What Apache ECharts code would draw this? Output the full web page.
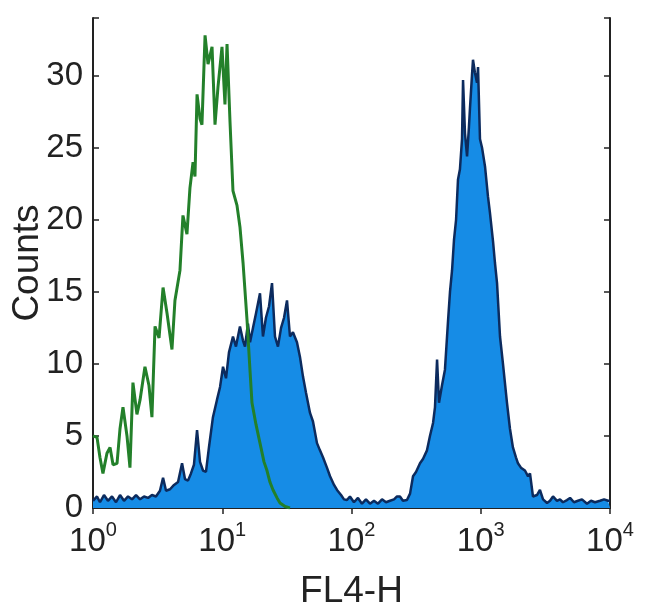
<!DOCTYPE html>
<html><head><meta charset="utf-8">
<script src="https://cdn.jsdelivr.net/npm/echarts@6/dist/echarts.min.js"></script>
<style>html,body{margin:0;padding:0;background:#fff}#c{width:650px;height:615px}</style>
</head><body><div id="c"></div>
<script>
// Tick labels
const xTickExponents = [0, 1, 2, 3, 4];
const yTickLabels = [0, 5, 10, 15, 20, 25, 30];
const xAxisTitle = 'FL4-H';
const yAxisTitle = 'Counts';

// Stained sample (blue filled histogram): log10(FL4-H) and counts
const blueLogFL4 = [0.000,0.031,0.054,0.085,0.116,0.147,0.178,0.209,0.240,0.271,0.302,0.333,0.364,0.395,0.426,0.456,0.487,0.518,0.542,0.565,0.596,0.627,0.658,0.689,0.712,0.735,0.758,0.781,0.805,0.828,0.851,0.874,0.897,0.928,0.959,0.983,1.006,1.029,1.052,1.083,1.106,1.137,1.161,1.176,1.199,1.215,1.238,1.261,1.292,1.315,1.338,1.362,1.385,1.408,1.431,1.455,1.478,1.501,1.524,1.547,1.578,1.601,1.625,1.648,1.679,1.702,1.733,1.756,1.780,1.810,1.834,1.865,1.888,1.919,1.942,1.965,1.988,2.019,2.050,2.081,2.112,2.143,2.174,2.205,2.236,2.267,2.298,2.329,2.352,2.375,2.398,2.429,2.453,2.476,2.499,2.530,2.553,2.584,2.607,2.631,2.646,2.662,2.677,2.700,2.723,2.747,2.762,2.778,2.793,2.809,2.824,2.839,2.855,2.863,2.878,2.894,2.909,2.917,2.932,2.940,2.955,2.971,2.979,2.994,3.010,3.033,3.056,3.071,3.095,3.110,3.126,3.149,3.172,3.203,3.226,3.249,3.273,3.288,3.311,3.342,3.366,3.381,3.404,3.435,3.458,3.482,3.513,3.536,3.559,3.590,3.613,3.636,3.667,3.691,3.721,3.752,3.783,3.822,3.853,3.884,3.923,3.954,3.985,4.000];
const blueCounts = [0.5,0.8,0.4,0.9,0.5,0.8,0.4,0.9,0.5,0.8,0.6,0.9,0.6,0.8,0.7,0.9,0.8,1.2,2.1,1.2,1.3,1.6,1.8,3.1,2.0,1.9,2.4,3.0,5.4,3.2,2.6,2.5,4.2,6.3,7.5,8.4,9.8,9.0,10.8,11.9,11.2,12.6,11.6,11.2,12.8,11.5,12.5,13.5,14.9,11.9,13.2,14.0,15.6,11.9,11.2,12.5,13.2,14.4,11.9,12.2,11.5,10.5,9.1,8.0,6.6,6.0,4.5,4.0,3.5,2.8,2.2,1.6,1.25,0.9,0.6,0.55,0.8,0.4,0.7,0.3,0.6,0.3,0.5,0.3,0.6,0.4,0.5,0.6,0.8,0.8,0.5,0.55,1.0,2.2,2.5,3.1,3.4,4.0,5.0,5.9,7.0,10.3,7.3,8.5,9.6,13.0,15.0,16.5,18.6,20.0,22.8,23.5,25.6,29.7,26.0,24.4,26.5,27.8,30.0,31.1,30.2,29.5,30.6,25.6,25.0,23.7,21.6,20.5,18.5,17.0,15.6,11.9,10.0,7.3,5.5,4.2,3.5,3.1,2.8,2.6,2.2,2.4,0.8,0.9,1.25,0.6,0.35,0.5,0.8,0.5,0.6,0.4,0.55,0.7,0.4,0.5,0.6,0.3,0.5,0.4,0.5,0.6,0.5,0.5];

// Control (green outline): log10(FL4-H) and counts
const greenLogFL4 = [0.000,0.031,0.054,0.077,0.108,0.132,0.155,0.186,0.209,0.232,0.263,0.286,0.309,0.340,0.364,0.402,0.433,0.456,0.480,0.511,0.542,0.573,0.611,0.634,0.673,0.696,0.727,0.750,0.774,0.789,0.805,0.828,0.843,0.867,0.890,0.921,0.944,0.967,0.998,1.021,1.037,1.060,1.083,1.114,1.137,1.161,1.192,1.215,1.230,1.261,1.292,1.323,1.346,1.369,1.393,1.424,1.447,1.486,1.524];
const greenCounts = [5.0,4.9,3.5,2.4,3.8,4.2,3.0,3.1,5.5,7.0,5.0,2.8,8.7,6.5,7.5,9.8,8.5,6.3,12.6,11.8,15.3,13.5,11.0,14.4,16.5,20.3,19.0,22.2,24.0,23.0,28.7,27.0,26.6,32.8,30.8,32.0,26.6,29.2,32.0,28.0,32.2,26.8,22.0,21.0,19.5,17.0,13.0,9.5,7.3,5.8,4.5,3.2,2.6,1.8,1.25,0.7,0.35,0.1,0];

const toPairs = (logs, counts) => logs.map((e, i) => [Math.pow(10, e), counts[i]]);

const FONT = '"Liberation Sans", Arial, sans-serif';
const TXT = '#222';
const AXC = '#222';

const chart = echarts.init(document.getElementById('c'), null, {renderer: 'canvas'});

const supLabel = v => {
  const ex = Math.round(Math.log10(v));
  return xTickExponents.includes(ex) ? '{b|10}{s|' + ex + '}' : '';
};

chart.setOption({
  animation: false,
  backgroundColor: '#fff',
  grid: {left: 93, top: 18, right: 40, bottom: 107, containLabel: false, outerBoundsMode: 'none'},
  xAxis: [{
    type: 'log', logBase: 10, min: 1, max: 10000, position: 'bottom',
    name: xAxisTitle, nameLocation: 'middle', nameGap: 65,
    nameTextStyle: {fontFamily: FONT, fontSize: 37, color: TXT},
    axisLine: {show: true, lineStyle: {color: AXC, width: 2}},
    axisTick: {show: true, inside: true, length: 6, lineStyle: {color: AXC, width: 1.5}},
    minorTick: {show: false},
    splitLine: {show: false},
    axisLabel: {
      margin: 12, formatter: supLabel, fontFamily: FONT, color: TXT,
      rich: {
        b: {fontFamily: FONT, fontSize: 33, color: TXT, lineHeight: 38, verticalAlign: 'bottom'},
        s: {fontFamily: FONT, fontSize: 20, color: TXT, lineHeight: 38, verticalAlign: 'top'}
      }
    }
  }, {
    type: 'log', logBase: 10, min: 1, max: 10000, position: 'top',
    axisLine: {show: true, lineStyle: {color: AXC, width: 2}},
    axisTick: {show: true, inside: true, length: 6, lineStyle: {color: AXC, width: 1.5}},
    axisLabel: {show: false}, splitLine: {show: false}
  }],
  yAxis: [{
    type: 'value', min: 0, max: 34, interval: 5, position: 'left',
    name: yAxisTitle, nameLocation: 'middle', nameGap: 47, nameRotate: 90,
    nameMoveOverlap: false,
    nameTextStyle: {fontFamily: FONT, fontSize: 37, color: TXT},
    axisLine: {show: true, lineStyle: {color: AXC, width: 2}},
    axisTick: {show: true, inside: true, length: 6, lineStyle: {color: AXC, width: 1.5}},
    splitLine: {show: false},
    axisLabel: {
      margin: 10, fontFamily: FONT, fontSize: 33, color: TXT,
      formatter: v => yTickLabels.includes(v) ? String(v) : ''
    }
  }, {
    type: 'value', min: 0, max: 34, interval: 5, position: 'right',
    axisLine: {show: true, lineStyle: {color: AXC, width: 2}},
    axisTick: {show: true, inside: true, length: 6, lineStyle: {color: AXC, width: 1.5}},
    axisLabel: {show: false}, splitLine: {show: false}
  }],
  series: [{
    name: 'Stained', type: 'line', xAxisIndex: 0, yAxisIndex: 0,
    data: toPairs(blueLogFL4, blueCounts),
    showSymbol: false, smooth: false,
    lineStyle: {color: '#0c2b5e', width: 2.5},
    areaStyle: {color: '#168ce6', opacity: 1},
    z: 2
  }, {
    name: 'Control', type: 'line', xAxisIndex: 0, yAxisIndex: 0,
    data: toPairs(greenLogFL4, greenCounts),
    showSymbol: false, smooth: false,
    lineStyle: {color: '#23802a', width: 3},
    z: 3
  }]
});
</script>
</body></html>
